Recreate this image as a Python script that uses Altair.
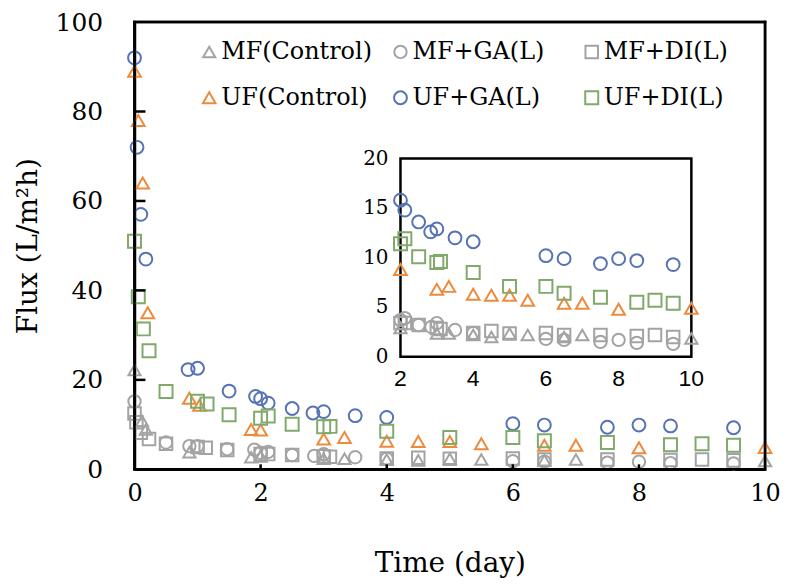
import altair as alt
import pandas as pd

# ---- data ----
series_names = ["MF(Control)", "MF+GA(L)", "MF+DI(L)", "UF(Control)", "UF+GA(L)", "UF+DI(L)"]
series_colors = ["#a3a3a3", "#a3a3a3", "#a3a3a3", "#ee8a3c", "#5673b4", "#80a96b"]
series_shapes = ["triangle-up", "circle", "square", "triangle-up", "circle", "square"]
series_sizes = [150, 170, 110, 150, 170, 110]

mf_ctrl_x = [0, 0.12, 0.18, 0.87, 1.85, 2.0, 3.0, 3.33, 4.0, 4.5, 5.0, 5.5, 6.5, 7.0, 10.0]
mf_ctrl_y = [22.2, 10.8, 8.9, 3.8, 2.7, 2.9, 2.35, 2.35, 2.2, 2.0, 2.35, 2.2, 2.0, 2.2, 1.85]

mf_ga_x = [0, 0.5, 0.87, 1.0, 1.47, 1.9, 2.0, 2.12, 2.5, 2.85, 3.0, 3.5, 4.0, 6.0, 6.5, 7.5, 8.0, 8.5, 9.5]
mf_ga_y = [15.2, 6.0, 5.2, 5.2, 4.5, 4.4, 3.7, 3.9, 3.2, 3.0, 3.4, 2.7, 2.4, 1.8, 1.7, 1.5, 1.7, 1.4, 1.3]

mf_di_x = [0, 0.03, 0.1, 0.23, 0.5, 1.0, 1.13, 1.47, 2.0, 2.12, 2.5, 3.0, 3.1, 4.0, 4.5, 5.0, 6.0, 6.5, 7.5, 8.5, 9.0, 9.5]
mf_di_y = [12.5, 10.5, 8.2, 6.8, 5.7, 5.0, 4.8, 4.3, 3.4, 3.4, 3.2, 2.9, 2.8, 2.4, 2.6, 2.35, 2.4, 2.2, 2.2, 2.1, 2.2, 2.0]

uf_ctrl_x = [0, 0.06, 0.13, 0.21, 0.87, 1.03, 1.85, 2.0, 3.0, 3.33, 4.0, 4.5, 5.0, 5.5, 6.5, 7.0, 8.0, 10.0]
uf_ctrl_y = [89, 78, 64, 35, 15.9, 14.3, 8.9, 8.8, 6.8, 7.1, 6.3, 6.2, 6.2, 5.7, 5.4, 5.4, 4.8, 4.9]

uf_ga_x = [0, 0.04, 0.1, 0.18, 0.85, 1.0, 1.5, 1.92, 2.0, 2.12, 2.5, 2.83, 3.0, 3.5, 4.0, 6.0, 6.5, 7.5, 8.0, 8.5, 9.5]
uf_ga_y = [92, 72, 57, 47, 22.3, 22.6, 17.5, 16.3, 15.8, 14.8, 13.6, 12.6, 12.9, 12.0, 11.6, 10.2, 9.9, 9.4, 9.9, 9.7, 9.3]

uf_di_x = [0, 0.06, 0.14, 0.23, 0.5, 1.0, 1.15, 1.5, 2.0, 2.12, 2.5, 3.0, 3.1, 4.0, 5.0, 6.0, 6.5, 7.5, 8.5, 9.0, 9.5]
uf_di_y = [51, 38.6, 31.4, 26.5, 17.4, 15.2, 14.6, 12.2, 11.4, 11.9, 10.1, 9.5, 9.6, 8.5, 7.1, 7.1, 6.4, 6.0, 5.5, 5.7, 5.4]

main_x_ticks = [0, 2, 4, 6, 8, 10]
main_y_ticks = [0, 20, 40, 60, 80, 100]
inset_x_ticks = [2, 4, 6, 8, 10]
inset_y_ticks = [0, 5, 10, 15, 20]

main_x_domain = [0, 10]
main_y_domain = [0, 100]
inset_x_domain = [2, 10]
inset_y_domain = [0, 20]

all_x = [mf_ctrl_x, mf_ga_x, mf_di_x, uf_ctrl_x, uf_ga_x, uf_di_x]
all_y = [mf_ctrl_y, mf_ga_y, mf_di_y, uf_ctrl_y, uf_ga_y, uf_di_y]

rows = []
for name, xs, ys in zip(series_names, all_x, all_y):
    for xv, yv in zip(xs, ys):
        rows.append({"Series": name, "Day": xv, "Flux": yv})
df = pd.DataFrame(rows)

# ---- layout ----
W, H = 633, 449
TOP = 13
SERIF = "DejaVu Serif"
SANS = "Liberation Sans"

# inset placement inside the plot area (pixels from the plot's top-left)
INSET_LEFT, INSET_RIGHT, INSET_TOP, INSET_BOTTOM = 267, 559, 137, 336
mxr = main_x_domain[1] - main_x_domain[0]
myr = main_y_domain[1] - main_y_domain[0]
IX0 = main_x_domain[0] + INSET_LEFT / W * mxr
IX1 = main_x_domain[0] + INSET_RIGHT / W * mxr
IY0 = main_y_domain[0] + (H - INSET_BOTTOM) / H * myr
IY1 = main_y_domain[0] + (H - INSET_TOP) / H * myr
SX = (IX1 - IX0) / (inset_x_domain[1] - inset_x_domain[0])
SY = (IY1 - IY0) / (inset_y_domain[1] - inset_y_domain[0])
ix_expr = f"{IX0} + (datum.Day - {inset_x_domain[0]}) * {SX}"
iy_expr = f"{IY0} + (datum.Flux - {inset_y_domain[0]}) * {SY}"

legend = alt.Legend(
    title=None, orient="none", legendX=63, legendY=18, direction="horizontal",
    columns=3, gridAlign="all", columnPadding=16, rowPadding=22,
    labelFont=SERIF, labelFontSize=24, labelColor="black", labelLimit=400,
    labelOffset=0, symbolStrokeWidth=2,
)
color = alt.Color("Series:N", scale=alt.Scale(domain=series_names, range=series_colors), legend=legend)
shape = alt.Shape("Series:N", scale=alt.Scale(domain=series_names, range=series_shapes), legend=legend)
size = alt.Size("Series:N", scale=alt.Scale(domain=series_names, range=series_sizes), legend=legend)

xs = alt.Scale(domain=main_x_domain, nice=False, zero=False)
ys = alt.Scale(domain=main_y_domain, nice=False)
x_axis = alt.Axis(
    values=main_x_ticks, title="Time (day)", ticks=False, grid=False,
    domain=True, domainColor="black", domainWidth=2.5,
    labelFont=SERIF, labelFontSize=24, labelColor="black", labelPadding=12,
    labelFlush=False, labelOverlap=False,
    titleFont=SERIF, titleFontSize=28, titleFontWeight="normal", titleColor="black",
    titlePadding=45)
y_axis = alt.Axis(
    values=main_y_ticks, title="Flux  (L/m²h)", ticks=False, grid=False,
    domain=True, domainColor="black", domainWidth=2.5,
    labelFont=SERIF, labelFontSize=25, labelColor="black", labelPadding=32,
    labelFlush=False, labelOverlap=False,
    titleFont=SERIF, titleFontSize=28, titleFontWeight="normal", titleColor="black",
    titlePadding=13)


def X(field):
    return alt.X(field, type="quantitative", scale=xs, axis=x_axis)


def Y(field):
    return alt.Y(field, type="quantitative", scale=ys, axis=y_axis)


# main points
main_pts = alt.Chart(df).mark_point(filled=False, strokeWidth=2, opacity=1).encode(
    x=X("Day"), y=Y("Flux"), color=color, shape=shape, size=size)

# inward tick marks of the main plot
ytick_df = pd.DataFrame({"Flux": main_y_ticks[1:-1]})
xtick_df = pd.DataFrame({"Day": main_x_ticks[1:-1]})
yticks = alt.Chart(ytick_df).mark_rule(color="black", strokeWidth=2.5).encode(
    x=alt.value(0), x2=alt.value(11), y=Y("Flux"))
xticks = alt.Chart(xtick_df).mark_rule(color="black", strokeWidth=2.5).encode(
    x=X("Day"), y=alt.value(H), y2=alt.value(H - 5))

# main frame edges from the domain extents
mx0, mx1 = main_x_domain
my0, my1 = main_y_domain
edges_df = pd.DataFrame([
    {"Day": mx0, "Day2": mx1, "Flux": my0, "Flux2": my0},
    {"Day": mx0, "Day2": mx1, "Flux": my1, "Flux2": my1},
    {"Day": mx0, "Day2": mx0, "Flux": my0, "Flux2": my1},
    {"Day": mx1, "Day2": mx1, "Flux": my0, "Flux2": my1},
])
edges = alt.Chart(edges_df).mark_rule(color="black", strokeWidth=2.5, strokeCap="square").encode(
    x=X("Day"), x2="Day2", y=Y("Flux"), y2="Flux2")

# inset frame
inset_frame_df = pd.DataFrame([{"Day": inset_x_domain[0], "Day2": inset_x_domain[1],
                                "Flux": inset_y_domain[0], "Flux2": inset_y_domain[1]}])
inset_frame = alt.Chart(inset_frame_df).transform_calculate(
    ix=ix_expr, iy=iy_expr,
    ix2=f"{IX0} + (datum.Day2 - {inset_x_domain[0]}) * {SX}",
    iy2=f"{IY0} + (datum.Flux2 - {inset_y_domain[0]}) * {SY}",
).mark_rect(fill="white", stroke="black", strokeWidth=2.5).encode(
    x=X("ix"), x2="ix2", y=Y("iy"), y2="iy2")

# inset points
inset_pts = alt.Chart(df).transform_filter(
    alt.datum.Day >= inset_x_domain[0]
).transform_calculate(ix=ix_expr, iy=iy_expr).mark_point(
    filled=False, strokeWidth=2, opacity=1).encode(
    x=X("ix"), y=Y("iy"), color=color, shape=shape, size=size)

# inset tick labels
iy_lab_df = pd.DataFrame({"Flux": inset_y_ticks, "Day": [inset_x_domain[0]] * len(inset_y_ticks)})
ix_lab_df = pd.DataFrame({"Day": inset_x_ticks, "Flux": [inset_y_domain[0]] * len(inset_x_ticks)})
inset_ylabels = alt.Chart(iy_lab_df).transform_calculate(ix=ix_expr, iy=iy_expr).mark_text(
    font=SERIF, fontSize=20, color="black", align="right", baseline="middle", dx=-12).encode(
    x=X("ix"), y=Y("iy"), text=alt.Text("Flux:Q", format="d"))
inset_xlabels = alt.Chart(ix_lab_df).transform_calculate(ix=ix_expr, iy=iy_expr).mark_text(
    font=SANS, fontSize=23, color="black", align="center", baseline="top", dy=11).encode(
    x=X("ix"), y=Y("iy"), text=alt.Text("Day:Q", format="d"))

chart = alt.layer(
    main_pts, yticks, xticks, inset_frame, inset_pts, inset_ylabels, inset_xlabels, edges
).properties(
    width=W, height=H,
    padding={"left": 127, "top": TOP, "right": 16, "bottom": 110},
    autosize=alt.AutoSizeParams(type="none"),
).configure_view(
    stroke="black", strokeWidth=2.5
)

chart.save("out.html", embed_options={"renderer": "svg", "actions": False})
